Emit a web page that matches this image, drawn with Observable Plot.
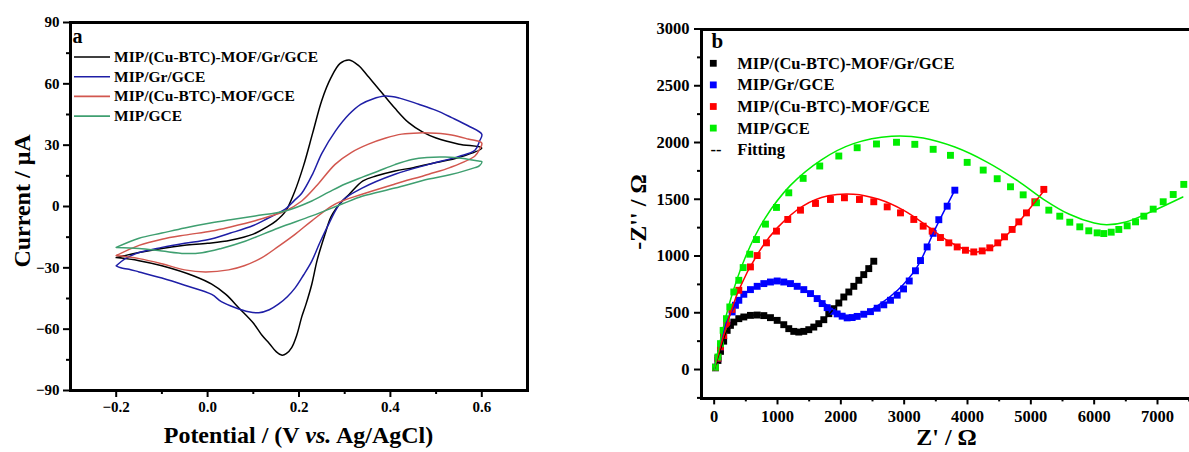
<!DOCTYPE html>
<html><head><meta charset="utf-8">
<script src="https://cdn.jsdelivr.net/npm/d3@7"></script>
<script src="https://cdn.jsdelivr.net/npm/@observablehq/plot@0.6"></script>
<style>
html,body{margin:0;padding:0;overflow:hidden;background:#fff;}
#wrap{position:relative;width:1189px;height:452px;overflow:hidden;}
#pa{position:absolute;left:0;top:0;width:600px;}
#pb{position:absolute;left:600px;top:0;width:600px;}
svg text{white-space:pre;}
svg{max-width:none !important;}
</style></head><body><div id="wrap"><div id="pa"></div><div id="pb"></div></div>
<script>
// ---------- Panel a: cyclic voltammograms (potential V, current µA) ----------
const seriesNames = ["MIP/(Cu-BTC)-MOF/Gr/GCE", "MIP/Gr/GCE", "MIP/(Cu-BTC)-MOF/GCE", "MIP/GCE"];
const cvColors = ["#000000", "#1e1ea6", "#d2574f", "#3f9f70"];
const cvBlack = [[-0.2,-25],[-0.15,-22.5],[-0.1,-20.5],[-0.05,-19],[0.0,-18],[0.05,-16.5],[0.1,-13.5],[0.13,-10],[0.15,-7],[0.17,-2.5],[0.19,7],[0.21,20],[0.23,36],[0.25,52],[0.27,63],[0.29,70],[0.31,71.7],[0.33,69],[0.35,64],[0.38,56],[0.41,48],[0.44,41],[0.47,36.5],[0.5,33.5],[0.55,30.5],[0.6,28.6],
  [0.55,24],[0.5,21.5],[0.45,19],[0.41,17.4],[0.37,15],[0.34,12.5],[0.31,6],[0.29,1.5],[0.27,-5],[0.257,-13.5],[0.24,-26],[0.228,-38],[0.215,-48],[0.206,-54],[0.195,-63],[0.184,-69],[0.172,-72],[0.163,-72.7],[0.15,-71],[0.135,-67],[0.119,-63],[0.1,-57],[0.068,-49.5],[0.04,-43],[0.009,-38],[-0.03,-34],[-0.1,-29],[-0.15,-26.5],[-0.2,-25]];
const cvBlue = [[-0.2,-29],[-0.18,-25.5],[-0.15,-22.5],[-0.1,-20],[-0.05,-18],[0.0,-16.3],[0.05,-13],[0.1,-9.3],[0.13,-6],[0.15,-3.7],[0.17,-1.3],[0.19,3],[0.206,6.5],[0.23,16],[0.25,26],[0.28,37],[0.309,45],[0.335,50],[0.36,52.5],[0.389,54],[0.42,53],[0.462,50],[0.5,47],[0.534,43.5],[0.57,39.5],[0.6,35.3],
  [0.595,32],[0.585,27.5],[0.55,24.5],[0.484,20.6],[0.41,15.8],[0.338,9],[0.294,2.7],[0.265,-8.6],[0.245,-18],[0.228,-26.7],[0.21,-33.5],[0.192,-39.7],[0.175,-44],[0.155,-47.8],[0.135,-50.5],[0.112,-52],[0.09,-51.5],[0.061,-49.5],[0.03,-46.5],[0.009,-43],[-0.05,-38.5],[-0.1,-35],[-0.15,-32],[-0.172,-30.7],[-0.19,-30],[-0.2,-29]];
const cvRed = [[-0.2,-24],[-0.15,-19],[-0.1,-16],[-0.05,-14],[0.009,-12],[0.05,-10],[0.104,-7],[0.14,-4.5],[0.17,-2.2],[0.206,2.7],[0.24,10.5],[0.279,20.6],[0.315,26.5],[0.352,30.5],[0.39,33.5],[0.425,35.4],[0.462,36],[0.5,35.8],[0.534,35],[0.57,33],[0.6,31],
  [0.595,28],[0.585,24.7],[0.53,19],[0.484,15.8],[0.41,11],[0.338,6],[0.279,1.2],[0.228,-7],[0.192,-13.5],[0.155,-19.5],[0.119,-25],[0.08,-29],[0.046,-31],[-0.005,-32],[-0.05,-31],[-0.1,-28],[-0.15,-25.5],[-0.2,-24]];
const cvGreen = [[-0.2,-20],[-0.15,-15.5],[-0.1,-13],[-0.05,-10.5],[0.009,-8],[0.05,-6.5],[0.104,-4.6],[0.17,-2.2],[0.228,2.7],[0.265,7],[0.301,11],[0.34,14.5],[0.374,17.4],[0.41,20.5],[0.447,23],[0.48,24],[0.52,24.2],[0.56,23.5],[0.593,22.2],[0.6,22],
  [0.595,20],[0.585,19],[0.53,15.5],[0.484,13.4],[0.41,9],[0.338,5],[0.294,1.2],[0.228,-4.6],[0.155,-10.5],[0.082,-17],[0.03,-20.5],[-0.012,-22.6],[-0.05,-23],[-0.1,-21.8],[-0.15,-20.5],[-0.2,-20]];
const cvXTicks = [-0.2, 0.0, 0.2, 0.4, 0.6];
const cvXMinor = [-0.1, 0.1, 0.3, 0.5];
const cvYTicks = [-90, -60, -30, 0, 30, 60, 90];
const cvYMinor = [-75, -45, -15, 15, 45, 75];

// ---------- Panel b: Nyquist plots (Z' Ω, -Z'' Ω) ----------
const eisColors = ["#000000", "#0000ff", "#ff0000", "#00ee00"];
const eisBlack = [[20,15],[60,80],[100,160],[150,250],[205,345],[257,389],[310,418],[389,448],[468,463],[573,477],[679,480],[784,475],[889,457],[995,433],[1099,395],[1178,360],[1257,336],[1336,330],[1415,336],[1494,351],[1573,374],[1652,404],[1731,439],[1810,492],[1889,536],[1968,586],[2047,639],[2126,683],[2205,733],[2284,786],[2362,836],[2441,889],[2520,954]];
const eisBlue = [[20,20],[60,100],[100,200],[150,300],[200,400],[284,507],[336,566],[389,610],[468,663],[573,704],[679,733],[784,757],[889,771],[995,780],[1099,771],[1205,757],[1311,733],[1415,704],[1521,669],[1626,625],[1705,581],[1784,545],[1863,513],[1942,490],[2021,470],[2100,455],[2179,458],[2258,468],[2362,487],[2468,510],[2574,540],[2678,570],[2784,610],[2890,655],[2990,710],[3080,780],[3178,870],[3258,960],[3363,1080],[3458,1200],[3547,1320],[3679,1439],[3800,1580]];
const eisRed = [[20,20],[60,100],[100,200],[150,300],[200,400],[280,530],[389,698],[573,904],[679,1004],[826,1116],[984,1219],[1162,1322],[1363,1404],[1600,1463],[1836,1498],[2057,1513],[2294,1498],[2520,1478],[2732,1433],[2942,1380],[3152,1322],[3300,1263],[3442,1219],[3573,1163],[3705,1116],[3837,1080],[3968,1051],[4099,1036],[4232,1045],[4352,1072],[4478,1116],[4584,1169],[4705,1234],[4810,1301],[4931,1380],[5063,1478],[5205,1587]];
const eisGreen = [[20,20],[60,110],[100,228],[142,345],[194,448],[247,551],[310,683],[389,786],[458,898],[562,1016],[668,1145],[810,1281],[984,1428],[1178,1557],[1405,1684],[1667,1793],[1968,1881],[2258,1954],[2563,1987],[2879,2002],[3168,1984],[3458,1940],[3731,1887],[3995,1825],[4248,1757],[4469,1681],[4679,1610],[4879,1539],[5089,1469],[5284,1404],[5457,1351],[5615,1298],[5773,1257],[5915,1222],[6047,1204],[6152,1198],[6269,1210],[6389,1234],[6521,1266],[6653,1301],[6784,1351],[6932,1413],[7090,1478],[7248,1542],[7415,1631]];
const fitBlack = [[0,0],[100,180],[205,345],[389,448],[573,477],[784,477],[995,433],[1178,360],[1336,330],[1494,351],[1731,439],[1968,586],[2205,733],[2520,954]];
const fitBlue = [[0,0],[100,230],[200,420],[400,620],[700,740],[1000,772],[1300,735],[1600,640],[1900,520],[2100,470],[2300,482],[2600,570],[2900,700],[3200,900],[3500,1250],[3800,1580]];
const fitRed = [[0,0],[150,300],[389,700],[700,1030],[1000,1250],[1400,1440],[1800,1530],[2200,1545],[2600,1500],[3000,1400],[3400,1250],[3700,1130],[4000,1050],[4150,1035],[4400,1080],[4700,1230],[5000,1430],[5230,1590]];
const fitGreen = [[0,0],[100,260],[250,600],[500,1000],[800,1330],[1200,1620],[1700,1850],[2200,1990],[2800,2055],[3300,2040],[3800,1960],[4300,1830],[4800,1660],[5200,1500],[5600,1370],[6000,1290],[6200,1275],[6500,1300],[6900,1390],[7400,1520]];
const eisXTicks = [0,1000,2000,3000,4000,5000,6000,7000];
const eisXMinor = [500,1500,2500,3500,4500,5500,6500,7500];
const eisYTicks = [0,500,1000,1500,2000,2500,3000];
const eisYMinor = [-250,250,750,1250,1750,2250,2750];

const FONT = "'Liberation Serif','Times New Roman',serif";
const X = d => d[0], Y = d => d[1];
const blank = () => "";
const baseStyle = {fontFamily: FONT, fontWeight: "bold", background: "transparent", overflow: "visible", maxWidth: "none"};

// ---------- Panel a ----------
const cvSets = [cvBlack, cvBlue, cvRed, cvGreen];
const plotA = Plot.plot({
  width: 600, height: 452,
  marginLeft: 70, marginRight: 73, marginTop: 22, marginBottom: 62,
  style: {...baseStyle, fontSize: "15px"},
  x: {domain: [-0.3, 0.7], axis: null},
  y: {domain: [-90, 90], axis: null},
  marks: [
    ...cvSets.map((s, i) => Plot.line(s, {x: X, y: Y, stroke: cvColors[i], strokeWidth: 1.5, curve: "catmull-rom"})),
    Plot.axisX(cvXTicks, {tickSize: 7, tickPadding: 4, stroke: "black", strokeWidth: 2, tickFormat: d3.format(".1f"), label: null, fontSize: 15}),
    Plot.axisX(cvXMinor, {tickSize: 4, stroke: "black", strokeWidth: 2, tickFormat: blank, label: null}),
    Plot.axisY(cvYTicks, {tickSize: 7, tickPadding: 4, stroke: "black", strokeWidth: 2, tickFormat: d3.format("d"), label: null, fontSize: 15}),
    Plot.axisY(cvYMinor, {tickSize: 4, stroke: "black", strokeWidth: 2, tickFormat: blank, label: null})
  ]
});
document.getElementById("pa").appendChild(plotA);

// ---------- Panel b ----------
const eisSets = [eisBlack, eisBlue, eisRed, eisGreen];
const fitSets = [fitBlack, fitBlue, fitRed, fitGreen];
const plotB = Plot.plot({
  width: 600, height: 452,
  marginLeft: 101, marginRight: 5, marginTop: 28.5, marginBottom: 54.6,
  style: {...baseStyle, fontSize: "16px"},
  x: {domain: [-200, 7600], axis: null},
  y: {domain: [-250, 3000], axis: null},
  marks: [
    ...eisSets.map((s, i) => Plot.dot(s, {x: X, y: Y, symbol: "square", r: 3.9, fill: eisColors[i]})),
    ...fitSets.map((s, i) => Plot.line(s, {x: X, y: Y, stroke: eisColors[i], strokeWidth: 1.5, curve: "catmull-rom"})),
    Plot.axisX(eisXTicks, {tickSize: 7, tickPadding: 5, stroke: "black", strokeWidth: 2, tickFormat: d3.format("d"), label: null, fontSize: 16.5}),
    Plot.axisX(eisXMinor, {tickSize: 4, stroke: "black", strokeWidth: 2, tickFormat: blank, label: null}),
    Plot.axisY(eisYTicks, {tickSize: 7, tickPadding: 5, stroke: "black", strokeWidth: 2, tickFormat: d3.format("d"), label: null, fontSize: 16.5}),
    Plot.axisY(eisYMinor, {tickSize: 4, stroke: "black", strokeWidth: 2, tickFormat: blank, label: null})
  ]
});
document.getElementById("pb").appendChild(plotB);

// ---------- Frames, titles and legends (non-data annotations) ----------
function addFrame(svg) {
  const xr = svg.scale("x").range, yr = svg.scale("y").range;
  d3.select(svg).append("rect")
    .attr("x", Math.round(Math.min(...xr))).attr("y", Math.round(Math.min(...yr)))
    .attr("width", Math.round(Math.abs(xr[1] - xr[0]))).attr("height", Math.round(Math.abs(yr[1] - yr[0])))
    .attr("fill", "none").attr("stroke", "#000").attr("stroke-width", 3)
    .attr("shape-rendering", "crispEdges");
}
addFrame(plotA);
addFrame(plotB);

function addText(svg, x, y, parts, size, opts = {}) {
  const t = d3.select(svg).append("text")
    .attr("x", x).attr("y", y)
    .attr("font-family", FONT).attr("font-weight", "bold")
    .attr("font-size", size).attr("fill", "black")
    .attr("text-anchor", opts.anchor || "start");
  if (opts.rotate) t.attr("transform", `rotate(-90 ${x} ${y})`);
  (Array.isArray(parts) ? parts : [[parts]]).forEach(([s, it]) => {
    const ts = t.append("tspan").text(s);
    if (it) ts.attr("font-style", "italic");
  });
  return t;
}

// Panel a
const xa = plotA.scale("x").range;
addText(plotA, (xa[0] + xa[1]) / 2, 443, [["Potential / (V "], ["vs.", true], [" Ag/AgCl)"]], 24, {anchor: "middle"});
addText(plotA, 30, 201, "Current / μA", 24, {anchor: "middle", rotate: true});
addText(plotA, 72.5, 42.5, "a", 20);
const legA = d3.select(plotA).append("g");
seriesNames.forEach((name, i) => {
  const yy = 57 + i * 19.7;
  legA.append("line").attr("x1", 74).attr("x2", 110).attr("y1", yy).attr("y2", yy)
    .attr("stroke", cvColors[i]).attr("stroke-width", 1.6);
  addText(plotA, 114, yy + 5, name, 15.5);
});

// Panel b
addText(plotB, 346.5, 445, "Z' / Ω", 24, {anchor: "middle"});
addText(plotB, 46, 212, "-Z'' / Ω", 24, {anchor: "middle", rotate: true});
addText(plotB, 111.5, 47.5, "b", 21);
const legB = d3.select(plotB).append("g");
seriesNames.forEach((name, i) => {
  const yy = 63.3 + i * 21.6;
  legB.append("rect").attr("x", 113.3 - 3.4).attr("y", yy - 3.4).attr("width", 6.8).attr("height", 6.8)
    .attr("fill", eisColors[i]);
  addText(plotB, 137.3, yy + 5.5, name, 16.5);
});
addText(plotB, 110.5, 149.3 + 5.5, "--", 16.5);
addText(plotB, 137.3, 149.3 + 5.5, "Fitting", 16.5);
</script></body></html>
